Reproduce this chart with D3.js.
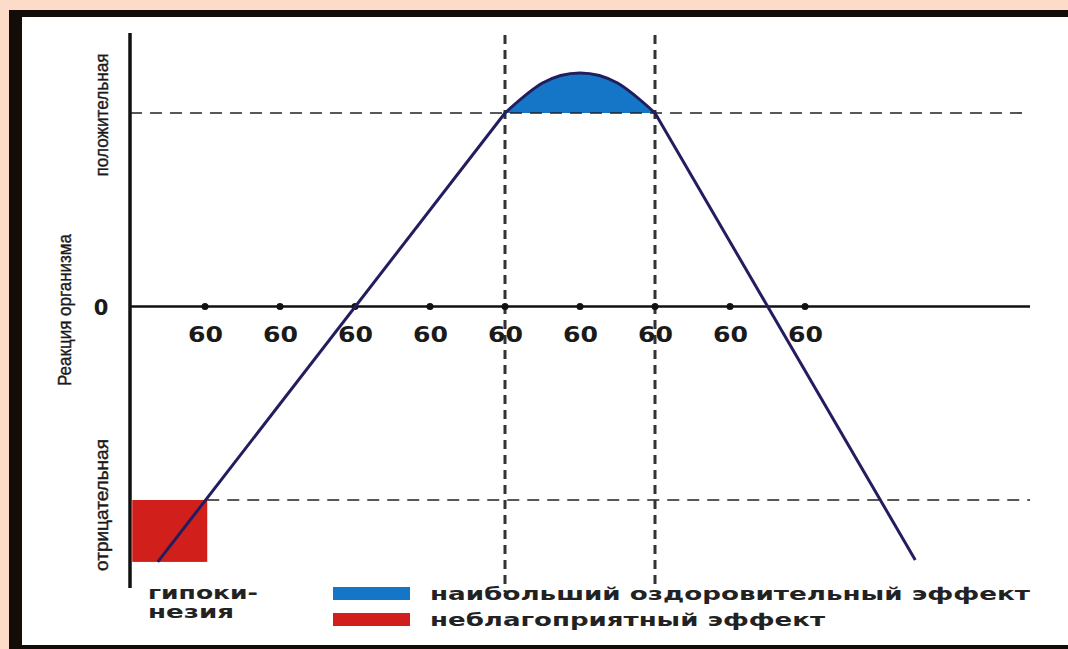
<!DOCTYPE html>
<html>
<head>
<meta charset="utf-8">
<script src="https://cdn.jsdelivr.net/npm/d3@7"></script>
<style>
  body { margin: 0; background: #fcdcc8; }
  svg { display: block; }
</style>
</head>
<body>
<svg id="board" width="1068" height="649"></svg>
<script>
// tick positions along the load axis (all labelled "60")
var tickValues = [1, 2, 3, 4, 5, 6, 7, 8, 9];
var tickLabels = ["60", "60", "60", "60", "60", "60", "60", "60", "60"];

// response curve: rising line, dome between x=5 and x=7, falling line
var riseLine = [[0.37, -1.32], [5, 1]];
var domeArc = [[5, 1], [5.5, 1.155], [6, 1.207], [6.5, 1.155], [7, 1]];
var fallLine = [[7, 1], [10.47, -1.31]];

// levels and zone borders
var posLevel = 1;
var negLevel = -1;
var zoneEdges = [5, 7];
var hypoZone = { x0: 0.03, x1: 1.03, y0: -1.32, y1: -1 };

var yLabels = ["положительная", "Реакция организма", "отрицательная"];
var legendItems = [
  { label: "наибольший оздоровительный эффект", color: "#1576c8" },
  { label: "неблагоприятный эффект", color: "#d1201c" }
];

var colors = {
  curve: "#221d5e",
  axis: "#111111",
  frame: "#140c06"
};

var svg = d3.select("#board");

// frame
svg.append("rect").attr("x", 9).attr("y", 10).attr("width", 1059).attr("height", 639)
  .attr("fill", colors.frame);
svg.append("rect").attr("x", 22).attr("y", 17).attr("width", 1046).attr("height", 628)
  .attr("fill", "#ffffff");

var x = d3.scaleLinear().domain([0, 12]).range([130, 1030]);
var y = d3.scaleLinear().domain([-1, 1]).range([500, 113]);

var line = d3.line().x(function (d) { return x(d[0]); }).y(function (d) { return y(d[1]); });
var arc = d3.line().x(function (d) { return x(d[0]); }).y(function (d) { return y(d[1]); })
  .curve(d3.curveNatural);

// red zone (hypokinesia)
svg.append("rect")
  .attr("x", x(hypoZone.x0))
  .attr("y", y(hypoZone.y1))
  .attr("width", x(hypoZone.x1) - x(hypoZone.x0))
  .attr("height", y(hypoZone.y0) - y(hypoZone.y1))
  .attr("fill", legendItems[1].color);

// blue dome fill
svg.append("path")
  .attr("d", arc(domeArc) + "Z")
  .attr("fill", legendItems[0].color);

// dashed horizontal levels
svg.append("line")
  .attr("x1", x(0)).attr("x2", x(12))
  .attr("y1", y(posLevel)).attr("y2", y(posLevel))
  .attr("stroke", "#222").attr("stroke-width", 1.6).attr("stroke-dasharray", "12,8");
svg.append("line")
  .attr("x1", x(hypoZone.x1)).attr("x2", x(12))
  .attr("y1", y(negLevel)).attr("y2", y(negLevel))
  .attr("stroke", "#222").attr("stroke-width", 1.6).attr("stroke-dasharray", "12,8");

// dashed vertical zone borders
svg.selectAll(".zone")
  .data(zoneEdges)
  .enter()
  .append("line")
  .attr("class", "zone")
  .attr("x1", function (d) { return x(d); })
  .attr("x2", function (d) { return x(d); })
  .attr("y1", 35).attr("y2", 592)
  .attr("stroke", "#333").attr("stroke-width", 3).attr("stroke-dasharray", "9,6");

// axes
svg.append("line")
  .attr("x1", x(0)).attr("x2", x(0)).attr("y1", 33).attr("y2", 588)
  .attr("stroke", colors.axis).attr("stroke-width", 3.5);
svg.append("line")
  .attr("x1", x(0)).attr("x2", x(12)).attr("y1", y(0)).attr("y2", y(0))
  .attr("stroke", colors.axis).attr("stroke-width", 2.5);

// ticks + labels
svg.selectAll(".tick")
  .data(tickValues)
  .enter()
  .append("circle")
  .attr("class", "tick")
  .attr("cx", function (d) { return x(d); })
  .attr("cy", y(0))
  .attr("r", 3.5)
  .attr("fill", colors.axis);

svg.selectAll(".tickLabel")
  .data(tickValues)
  .enter()
  .append("text")
  .attr("class", "tickLabel")
  .attr("x", function (d) { return x(d) - 17; })
  .attr("y", y(0) + 35)
  .attr("font-family", "DejaVu Sans")
  .attr("font-weight", "bold")
  .attr("font-size", 21)
  .attr("textLength", 35)
  .attr("lengthAdjust", "spacingAndGlyphs")
  .attr("fill", "#1a1a1a")
  .text(function (d, i) { return tickLabels[i]; });

svg.append("text")
  .attr("x", 101).attr("y", y(0) + 8)
  .attr("text-anchor", "middle")
  .attr("font-family", "DejaVu Sans")
  .attr("font-weight", "bold")
  .attr("font-size", 21)
  .attr("fill", "#1a1a1a")
  .text("0");

// curve
svg.append("path").attr("d", line(riseLine))
  .attr("fill", "none").attr("stroke", colors.curve).attr("stroke-width", 3);
svg.append("path").attr("d", arc(domeArc))
  .attr("fill", "none").attr("stroke", colors.curve).attr("stroke-width", 3);
svg.append("path").attr("d", line(fallLine))
  .attr("fill", "none").attr("stroke", colors.curve).attr("stroke-width", 3);

// rotated y labels
var yLabelPos = [[108, 115, 123], [71, 310, 152], [108, 505, 132]];
yLabels.forEach(function (t, i) {
  var p = yLabelPos[i];
  svg.append("text")
    .attr("transform", "translate(" + p[0] + "," + p[1] + ") rotate(-90)")
    .attr("text-anchor", "middle")
    .attr("font-family", "Liberation Sans Narrow, Liberation Sans")
    .attr("font-size", 19)
    .attr("textLength", p[2])
    .attr("lengthAdjust", "spacingAndGlyphs")
    .attr("fill", "#1a1a1a")
    .style("paint-order", "stroke")
    .attr("stroke", "#1a1a1a")
    .attr("stroke-width", 0.4)
    .text(t);
});

// hypokinesia label
["гипоки-", "незия"].forEach(function (t, i) {
  svg.append("text")
    .attr("x", 148).attr("y", 599 + i * 19)
    .attr("font-family", "DejaVu Sans")
    .attr("font-weight", "bold")
    .attr("font-size", 17)
    .attr("textLength", i == 0 ? 110 : 86)
    .attr("lengthAdjust", "spacingAndGlyphs")
    .attr("fill", "#222")
    .text(t);
});

// legend
var legend = svg.selectAll(".legend")
  .data(legendItems)
  .enter()
  .append("g")
  .attr("class", "legend")
  .attr("transform", function (d, i) { return "translate(333," + (587 + i * 26) + ")"; });

legend.append("rect")
  .attr("width", 77).attr("height", 13)
  .attr("fill", function (d) { return d.color; });

legend.append("text")
  .attr("x", 97).attr("y", 13)
  .attr("font-family", "DejaVu Sans")
  .attr("font-weight", "bold")
  .attr("font-size", 18)
  .attr("textLength", function (d, i) { return i == 0 ? 600 : 395; })
  .attr("lengthAdjust", "spacingAndGlyphs")
  .attr("fill", "#222")
  .text(function (d) { return d.label; });
</script>
</body>
</html>
